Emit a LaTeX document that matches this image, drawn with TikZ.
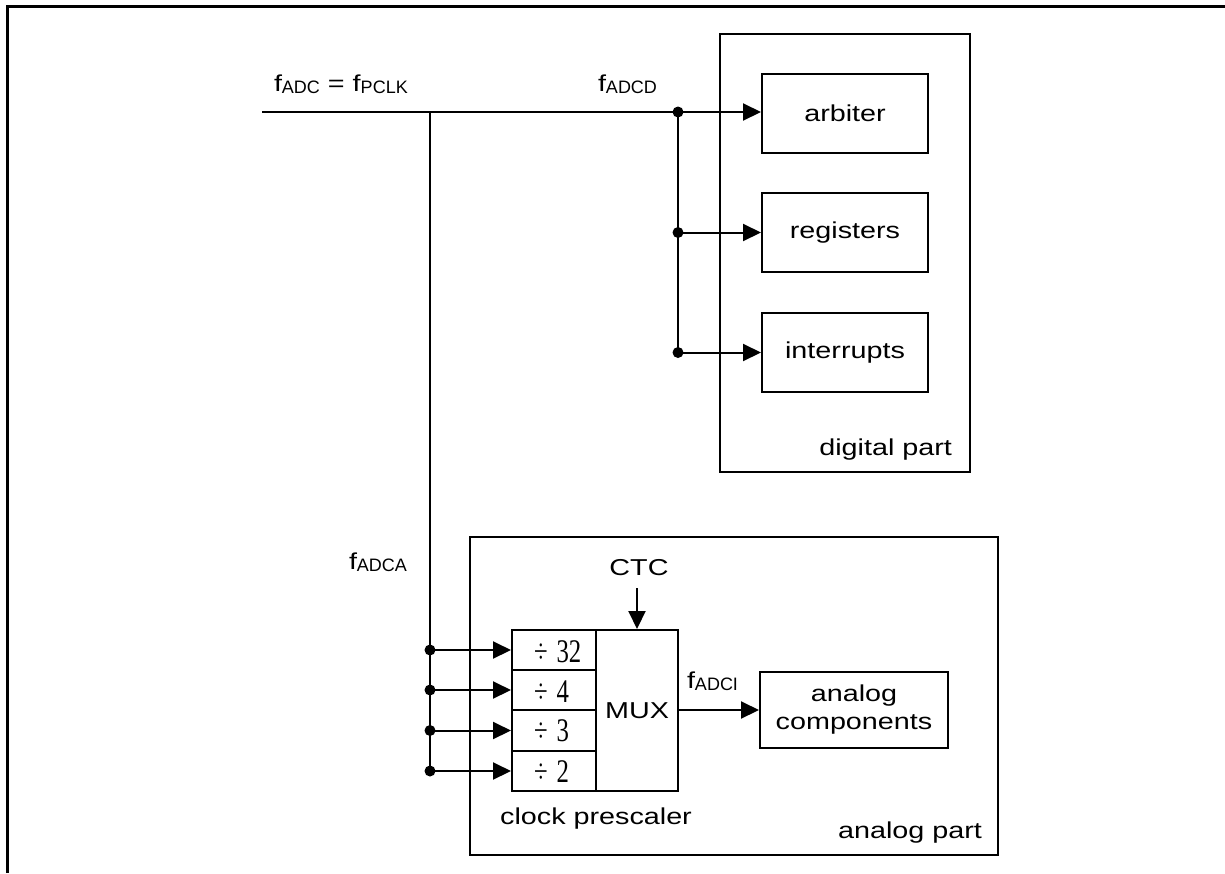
\documentclass[tikz,border=0pt]{standalone}
\usepackage{fontspec}
\setmainfont{Liberation Sans}[FakeStretch=1.25]
\newfontfamily\subfont{Liberation Sans}
\newfontfamily\numfont{Liberation Serif}[FakeStretch=0.75]
\usetikzlibrary{arrows.meta}
\newcommand{\sbs}[1]{\raisebox{-2.5pt}{\subfont\fontsize{18}{18}\selectfont #1}}
\newcommand{\dv}[1]{{\numfont\fontsize{33}{33}\selectfont ÷\hspace{9pt}#1}}
\begin{document}
\begin{tikzpicture}[x=1pt,y=-1pt,line width=2pt,
  txt/.style={font=\fontsize{23}{28}\selectfont, inner sep=0pt},
  blk/.style={draw, line width=2pt, inner sep=0pt, font=\fontsize{23}{28}\selectfont, align=center},
  arr/.style={-{Triangle[length=18pt,width=17pt]}},
  jdot/.style={circle, fill, inner sep=0pt, minimum size=11pt}]
\useasboundingbox (0,0) rectangle (1225,873);
\draw[line width=3pt] (7,873) -- (7,6) -- (1225,6);

% digital part
\node[blk, minimum width=250pt, minimum height=438pt] (dig) at (845,253) {};
\node[txt, anchor=base east] (diglbl) at (953,455) {digital part};
\node[blk, minimum width=166pt, minimum height=79pt] (arb) at (845,113.5) {arbiter};
\node[blk, minimum width=166pt, minimum height=79pt] (reg) at (845,232.5) {registers};
\node[blk, minimum width=166pt, minimum height=79pt] (int) at (845,352.5) {interrupts};

% analog part
\node[blk, minimum width=528pt, minimum height=318pt] (ana) at (734,696) {};
\node[txt, anchor=base east] (analbl) at (983,838) {analog part};
\node[blk, minimum width=84pt, minimum height=40pt] (c1) at (554,650) {};
\node[blk, minimum width=84pt, minimum height=40pt] (c2) at (554,690) {};
\node[blk, minimum width=84pt, minimum height=41pt] (c3) at (554,730.5) {};
\node[blk, minimum width=84pt, minimum height=40pt] (c4) at (554,771) {};
\node[blk, minimum width=82pt, minimum height=161pt] (mux) at (637,710.5) {MUX};
\node[anchor=base west, inner sep=0pt] (t1) at (533,662) {\dv{32}};
\node[anchor=base west, inner sep=0pt] (t2) at (533,702) {\dv{4}};
\node[anchor=base west, inner sep=0pt] (t3) at (533,741) {\dv{3}};
\node[anchor=base west, inner sep=0pt] (t4) at (533,782) {\dv{2}};
\node[txt, anchor=base] (cps) at (596,824) {clock prescaler};
\node[blk, minimum width=188pt, minimum height=76pt] (ac) at (854,710) {analog\\components};
\node[txt, anchor=base] (ctc) at (639,575) {CTC};
\coordinate (ctcs) at (637,588);
\draw[arr] (ctcs) -- (ctcs |- mux.north);
\draw[arr] (mux.east |- ac.west) -- (ac.west);
\node[txt, anchor=base west] (fi) at (686,688) {f\sbs{ADCI}};

% clock lines
\coordinate (in) at (262,112);
\coordinate (vtop) at (430,112);
\node[jdot] (ja) at (678,112) {};
\node[jdot] (jb) at (678,232.5) {};
\node[jdot] (jc) at (678,352.5) {};
\draw (in) -- (ja.center);
\draw (ja.center) -- (jc.center);
\draw[arr] (ja.center) -- (ja.center -| arb.west);
\draw[arr] (jb.center) -- (reg.west);
\draw[arr] (jc.center) -- (int.west);

\node[jdot] (j1) at (430,650) {};
\node[jdot] (j2) at (430,690) {};
\node[jdot] (j3) at (430,730.5) {};
\node[jdot] (j4) at (430,771) {};
\draw (vtop) -- (j4.center);
\draw[arr] (j1.center) -- (c1.west);
\draw[arr] (j2.center) -- (c2.west);
\draw[arr] (j3.center) -- (c3.west);
\draw[arr] (j4.center) -- (c4.west);

\node[txt, anchor=base west] (fin) at (273,91) {f\sbs{ADC} = f\sbs{PCLK}};
\node[txt, anchor=base west] (fd) at (597,91) {f\sbs{ADCD}};
\node[txt, anchor=base west] (fa) at (348,569) {f\sbs{ADCA}};
\end{tikzpicture}
\end{document}
